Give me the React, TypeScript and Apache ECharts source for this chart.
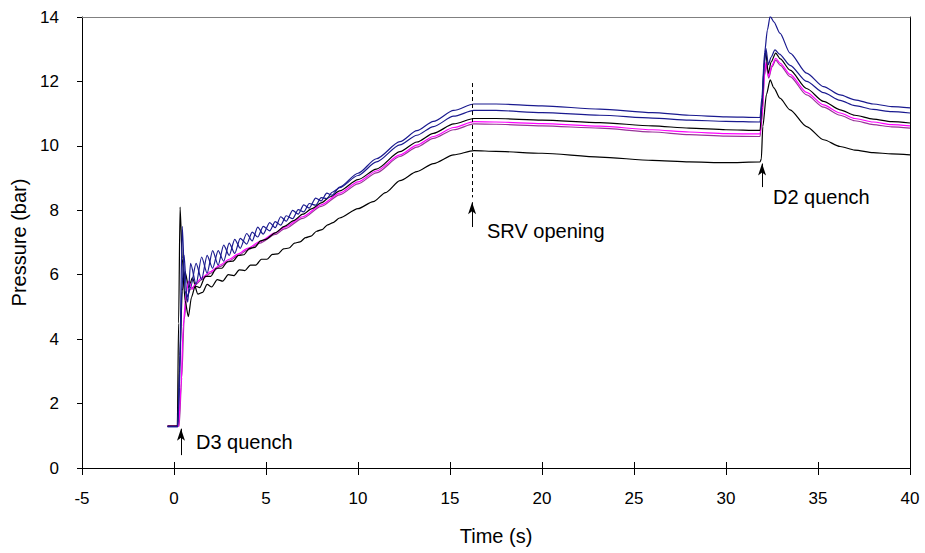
import React, { useEffect, useRef } from "react";
import * as echarts from "echarts";

// ---- axis ticks ----
const xTicks = { min: -5, max: 40, interval: 5 };
const yTicks = { min: 0, max: 14, interval: 2 };

// ---- series data: [time (s), pressure (bar)] ----
const navyA: number[][] = [
  [-0.35, 1.28], [0.2, 1.28], [0.3, 3.0], [0.45, 7.5], [0.6, 5.5], [0.75, 5.15], [0.9, 6.35],
  [1.2, 5.7], [1.5, 6.55], [1.8, 6.05], [2.1, 6.75], [2.4, 6.3], [2.7, 6.92], [3.0, 6.6],
  [3.3, 7.1], [3.6, 6.82], [3.95, 7.28], [4.25, 7.05], [4.55, 7.48], [4.85, 7.26], [5.2, 7.62],
  [5.5, 7.46], [5.8, 7.8], [6.1, 7.66], [6.45, 8.0], [6.75, 7.88], [7.05, 8.17], [7.35, 8.07],
  [7.7, 8.38], [8.0, 8.29], [8.3, 8.53], [8.6, 8.47], [9.0, 8.72], [10, 9.15], [11, 9.6],
  [12.28, 10.13], [13.2, 10.47], [14.1, 10.76], [15.2, 11.1], [16.3, 11.3], [17.5, 11.3],
  [20, 11.24], [23.15, 11.14], [26, 11.03], [28, 10.95], [30, 10.9], [31.85, 10.88],
  [31.95, 11.5], [32.1, 12.9], [32.25, 13.6], [32.4, 14.02], [32.6, 13.85], [32.93, 13.5],
  [33.48, 12.88], [34.38, 12.26], [35.3, 11.84], [36.2, 11.58], [37, 11.43], [38, 11.3],
  [39, 11.22], [40, 11.18],
];
const navyB: number[][] = [
  [-0.35, 1.28], [0.2, 1.28], [0.3, 2.5], [0.42, 5.5], [0.55, 6.6], [0.7, 5.3], [0.9, 5.6],
  [1.2, 6.35], [1.5, 5.85], [1.8, 6.6], [2.1, 6.2], [2.4, 6.75], [2.7, 6.42], [3.0, 6.98],
  [3.3, 6.66], [3.6, 7.13], [3.95, 6.95], [4.25, 7.32], [4.55, 7.17], [4.85, 7.5], [5.2, 7.36],
  [5.5, 7.65], [5.8, 7.54], [6.1, 7.83], [6.45, 7.74], [6.75, 8.02], [7.05, 7.95], [7.35, 8.21],
  [7.7, 8.16], [8.0, 8.39], [8.3, 8.36], [8.6, 8.56], [9.0, 8.7], [10, 9.08], [11, 9.5],
  [12.28, 10.03], [13.2, 10.33], [14.1, 10.6], [15.2, 10.92], [16.3, 11.1], [17.5, 11.1],
  [20, 11.03], [23.15, 10.95], [26, 10.86], [28, 10.8], [30, 10.76], [31.85, 10.74],
  [31.95, 11.3], [32.08, 12.5], [32.17, 13.03], [32.3, 12.52], [32.45, 12.75], [32.66, 12.98],
  [32.9, 12.85], [33.48, 12.5], [34.38, 12.0], [35.3, 11.65], [36.2, 11.41], [37, 11.25],
  [38, 11.13], [39, 11.06], [40, 11.02],
];
const blackC: number[][] = [
  [-0.35, 1.3], [0.18, 1.3], [0.25, 4.5], [0.33, 8.1], [0.45, 6.5], [0.6, 5.2], [0.78, 4.7],
  [0.95, 5.3], [1.15, 5.65], [1.4, 5.6], [1.7, 5.95], [2.0, 5.95], [2.3, 6.2], [2.6, 6.2],
  [2.9, 6.4], [3.2, 6.42], [3.5, 6.6], [3.8, 6.62], [4.1, 6.82], [4.4, 6.85], [4.7, 7.05],
  [5.0, 7.1], [5.5, 7.3], [6, 7.5], [6.5, 7.68], [7, 7.88], [7.5, 8.05], [8, 8.23],
  [8.5, 8.42], [9, 8.6], [10, 8.95], [11, 9.28], [12.28, 9.82], [13.2, 10.12], [14.1, 10.39],
  [15.2, 10.68], [16.3, 10.85], [17.5, 10.85], [20, 10.8], [23.15, 10.72], [26, 10.62],
  [28, 10.55], [30, 10.5], [31.85, 10.48], [31.95, 11.2], [32.08, 12.6], [32.15, 12.95],
  [32.3, 12.25], [32.45, 12.6], [32.7, 12.88], [32.95, 12.7], [33.48, 12.35], [34.38, 11.78],
  [35.3, 11.38], [36.2, 11.12], [37, 10.95], [38, 10.83], [39, 10.75], [40, 10.71],
];
const magenta: number[][] = [
  [-0.35, 1.3], [0.25, 1.3], [0.38, 2.5], [0.5, 4.4], [0.65, 5.4], [0.8, 5.8], [1.0, 5.55],
  [1.2, 5.75], [1.5, 5.9], [2, 6.1], [2.5, 6.3], [3, 6.48], [3.5, 6.65], [4, 6.82],
  [4.67, 7.03], [5.5, 7.3], [6, 7.47], [7, 7.8], [8, 8.17], [9, 8.53], [10, 8.88], [11, 9.22],
  [12.28, 9.72], [13.2, 10.02], [14.1, 10.29], [15.2, 10.57], [16.3, 10.75], [17.5, 10.74],
  [20, 10.69], [23.15, 10.61], [26, 10.5], [28, 10.43], [30, 10.38], [31.85, 10.37],
  [31.95, 10.9], [32.1, 12.3], [32.18, 12.6], [32.32, 12.15], [32.5, 12.5], [32.7, 12.72],
  [32.95, 12.56], [33.48, 12.22], [34.38, 11.66], [35.3, 11.27], [36.2, 11.02], [37, 10.85],
  [38, 10.74], [39, 10.66], [40, 10.62],
];
const purple: number[][] = [
  [-0.35, 1.3], [0.28, 1.3], [0.42, 2.8], [0.55, 4.6], [0.7, 5.3], [0.9, 5.55], [1.2, 5.7],
  [1.5, 5.85], [2, 6.05], [2.5, 6.25], [3, 6.43], [3.5, 6.6], [4, 6.77], [4.67, 6.98],
  [5.5, 7.25], [6, 7.42], [7, 7.75], [8, 8.12], [9, 8.48], [10, 8.82], [11, 9.16],
  [12.28, 9.67], [13.2, 9.96], [14.1, 10.23], [15.2, 10.5], [16.3, 10.68], [17.5, 10.67],
  [20, 10.62], [23.15, 10.55], [26, 10.43], [28, 10.35], [30, 10.3], [31.85, 10.29],
  [31.95, 10.8], [32.1, 12.2], [32.18, 12.5], [32.32, 12.1], [32.5, 12.45], [32.7, 12.66],
  [32.95, 12.5], [33.48, 12.15], [34.38, 11.58], [35.3, 11.2], [36.2, 10.95], [37, 10.78],
  [38, 10.66], [39, 10.59], [40, 10.55],
];
const blackF: number[][] = [
  [-0.35, 1.3], [0.22, 1.3], [0.32, 3.5], [0.45, 5.5], [0.6, 6.1], [0.8, 5.6], [1.0, 5.9],
  [1.3, 5.4], [1.55, 5.45], [1.8, 5.7], [2.05, 5.62], [2.35, 5.85], [2.65, 5.8], [2.95, 6.0],
  [3.25, 5.97], [3.55, 6.15], [3.85, 6.13], [4.15, 6.3], [4.45, 6.3], [4.75, 6.48],
  [5.05, 6.48], [5.35, 6.63], [5.65, 6.65], [5.95, 6.8], [6.25, 6.83], [6.55, 6.98],
  [6.85, 7.02], [7.15, 7.15], [7.45, 7.2], [7.75, 7.35], [8.05, 7.4], [8.35, 7.55],
  [8.65, 7.62], [9, 7.76], [10, 8.05], [10.83, 8.27], [11.5, 8.55], [12.28, 8.92],
  [13.2, 9.2], [14.1, 9.45], [15.2, 9.72], [16.3, 9.85], [17.5, 9.83], [20, 9.77],
  [23.15, 9.65], [26, 9.55], [28, 9.5], [30, 9.48], [31.85, 9.5], [31.92, 9.6], [32.0, 10.6],
  [32.2, 11.6], [32.4, 12.05], [32.6, 11.8], [32.93, 11.48], [33.48, 11.12], [34.38, 10.6],
  [35.3, 10.19], [36.2, 9.98], [37, 9.87], [38, 9.79], [39, 9.75], [40, 9.72],
];

// ---- annotations ----
const srvTime = 16.2;
const srvDash = [11.95, 8.4];
const srvArrow = [7.48, 8.25];
const d3Time = 0.38;
const d3Arrow = [0.4, 1.22];
const d2Time = 31.96;
const d2Arrow = [8.72, 9.45];
const labels = ["SRV opening", "D3 quench", "D2 quench"];

const FONT = "'Liberation Sans', Arial, sans-serif";

export default function App() {
  const ref = useRef<HTMLDivElement>(null);
  useEffect(() => {
    if (!ref.current) return;
    const chart = echarts.init(ref.current, undefined, { renderer: "svg" });
    const line = (name: string, data: number[][], color: string) => ({
      name,
      type: "line",
      data,
      xAxisIndex: 0,
      yAxisIndex: 0,
      showSymbol: false,
      smooth: 0.25,
      smoothMonotone: "x",
      lineStyle: { color, width: 1.2 },
      itemStyle: { color },
      silent: true,
    });
    const arrow = (t: number, ys: number[]) => [
      { coord: [t, ys[0]], symbol: "none" },
      { coord: [t, ys[1]], symbol: "arrow", symbolSize: [6, 12] },
    ];
    const option: any = {
      animation: false,
      textStyle: { fontFamily: FONT },
      grid: { left: 82, right: 15, top: 17, bottom: 85, containLabel: false, outerBoundsMode: "none" },
      xAxis: [
        {
          type: "value", position: "bottom", ...xTicks,
          name: "Time (s)", nameLocation: "middle", nameGap: 58,
          nameTextStyle: { color: "#000", fontSize: 20, fontFamily: FONT },
          axisLine: { show: true, onZero: false, lineStyle: { color: "#000", width: 1 } },
          axisTick: { show: true, inside: false, length: 7, lineStyle: { color: "#000" } },
          axisLabel: { color: "#000", fontSize: 17, margin: 22, fontFamily: FONT },
          splitLine: { show: false },
        },
        {
          type: "value", position: "bottom", ...xTicks,
          axisLine: { show: false, onZero: false },
          axisTick: { show: true, inside: true, length: 6, lineStyle: { color: "#000" } },
          axisLabel: { show: false },
          splitLine: { show: false },
        },
        {
          type: "value", position: "top", ...xTicks,
          axisLine: { show: true, onZero: false, lineStyle: { color: "#808080", width: 1 } },
          axisTick: { show: false },
          axisLabel: { show: false },
          splitLine: { show: false },
        },
      ],
      yAxis: [
        {
          type: "value", position: "left", ...yTicks,
          name: "Pressure (bar)", nameLocation: "middle", nameGap: 50,
          nameTextStyle: { color: "#000", fontSize: 20, fontFamily: FONT },
          axisLine: { show: true, onZero: false, lineStyle: { color: "#000", width: 1 } },
          axisTick: { show: true, inside: false, length: 5, lineStyle: { color: "#000" } },
          axisLabel: { color: "#000", fontSize: 17, margin: 23, fontFamily: FONT },
          splitLine: { show: false },
        },
        {
          type: "value", position: "right", ...yTicks,
          axisLine: { show: true, onZero: false, lineStyle: { color: "#000", width: 1 } },
          axisTick: { show: false },
          axisLabel: { show: false },
          splitLine: { show: false },
        },
      ],
      series: [
        {
          ...line("black2", blackF, "#000000"),
          markLine: {
            silent: true,
            animation: false,
            label: { show: false },
            lineStyle: { color: "#000", width: 1, type: "solid" },
            data: [
              [
                { coord: [srvTime, srvDash[0]], symbol: "none", lineStyle: { type: [4, 3], color: "#000", width: 1 } },
                { coord: [srvTime, srvDash[1]], symbol: "none" },
              ],
              arrow(srvTime, srvArrow),
              arrow(d3Time, d3Arrow),
              arrow(d2Time, d2Arrow),
            ],
          },
        },
        line("purple", purple, "#993399"),
        line("magenta", magenta, "#FF00FF"),
        line("black1", blackC, "#000000"),
        line("navy2", navyB, "#1A1A8F"),
        line("navy1", navyA, "#1A1A8F"),
      ],
      graphic: [
        { type: "text", left: 487, top: 221, style: { text: labels[0], font: `20px ${FONT}`, fill: "#000" } },
        { type: "text", left: 196, top: 432, style: { text: labels[1], font: `20px ${FONT}`, fill: "#000" } },
        { type: "text", left: 773, top: 187, style: { text: labels[2], font: `20px ${FONT}`, fill: "#000" } },
      ],
    };
    chart.setOption(option);
    return () => chart.dispose();
  }, []);
  return (
    <div
      ref={ref}
      style={{ position: "fixed", left: 0, top: 0, width: 925, height: 553, background: "#fff" }}
    />
  );
}
